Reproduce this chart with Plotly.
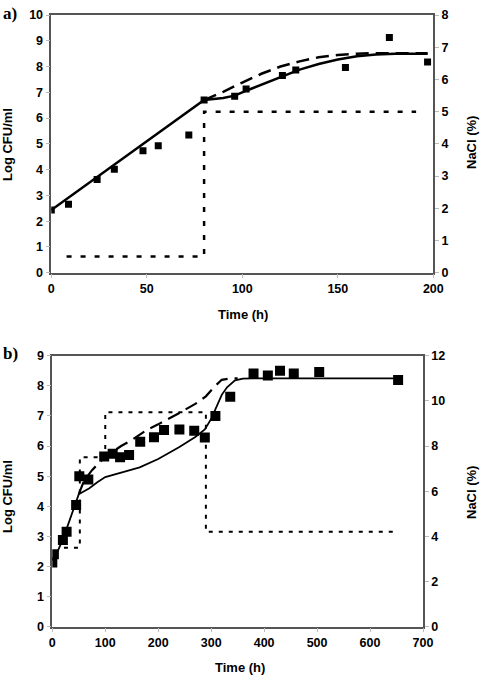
import plotly.graph_objects as go

W, H = 480, 678

# ---------- Panel a data ----------
a_obs_t = [0, 9, 24, 33, 48, 56, 72, 80, 96, 102, 121, 128, 154, 177, 197]
a_obs_log = [2.43, 2.66, 3.62, 4.01, 4.73, 4.93, 5.34, 6.70, 6.85, 7.13, 7.65, 7.87, 7.96, 9.13, 8.18]

a_solid_t = [0, 80, 90, 96, 104, 120, 130, 140, 150, 160, 170, 180, 197]
a_solid_log = [2.43, 6.70, 6.78, 6.87, 7.12, 7.60, 7.88, 8.10, 8.27, 8.40, 8.47, 8.50, 8.50]

a_dash_t = [80, 90, 100, 110, 120, 130, 140, 150, 160, 170, 197]
a_dash_log = [6.70, 7.02, 7.38, 7.72, 8.00, 8.20, 8.36, 8.45, 8.50, 8.52, 8.52]

a_nacl_t = [8, 80, 80, 191]
a_nacl = [0.5, 0.5, 5.0, 5.0]

# ---------- Panel b data ----------
b_obs_t = [0, 3, 20, 27, 45, 51, 68, 98, 114, 128, 145, 166, 192, 211, 240, 268, 288, 308, 336, 380, 407, 430, 456, 504, 653]
b_obs_log = [2.13, 2.41, 2.88, 3.15, 4.04, 5.00, 4.89, 5.65, 5.74, 5.63, 5.70, 6.14, 6.29, 6.53, 6.55, 6.51, 6.28, 7.00, 7.64, 8.41, 8.34, 8.50, 8.41, 8.46, 8.19]

b_solid_t = [0, 10, 20, 30, 40, 50, 60, 70, 85, 100, 130, 165, 200, 240, 270, 288, 300, 310, 320, 330, 345, 360, 380, 653]
b_solid_log = [2.20, 2.50, 2.90, 3.40, 3.90, 4.40, 4.50, 4.60, 4.80, 4.97, 5.12, 5.29, 5.57, 5.97, 6.30, 6.55, 6.90, 7.30, 7.70, 7.95, 8.18, 8.24, 8.25, 8.25]

b_dash_t = [50, 60, 75, 100, 130, 150, 180, 200, 240, 270, 290, 305, 320, 335, 350]
b_dash_log = [4.40, 4.85, 5.20, 5.65, 6.00, 6.20, 6.55, 6.72, 7.10, 7.40, 7.65, 7.95, 8.20, 8.24, 8.25]

b_nacl_t = [22, 52, 52, 100, 100, 290, 290, 650]
b_nacl = [3.5, 3.5, 7.5, 7.5, 9.5, 9.5, 4.2, 4.2]

fig = go.Figure()

# Panel a traces
fig.add_trace(go.Scatter(x=a_nacl_t, y=a_nacl, mode="lines", xaxis="x", yaxis="y2",
                         line=dict(color="black", width=2.5, dash="5px,9px"), showlegend=False))
fig.add_trace(go.Scatter(x=a_dash_t, y=a_dash_log, mode="lines", xaxis="x", yaxis="y",
                         line=dict(color="black", width=2.5, dash="13px,7px"), showlegend=False))
fig.add_trace(go.Scatter(x=a_solid_t, y=a_solid_log, mode="lines", xaxis="x", yaxis="y",
                         line=dict(color="black", width=2.5), showlegend=False))
fig.add_trace(go.Scatter(x=a_obs_t, y=a_obs_log, mode="markers", xaxis="x", yaxis="y",
                         marker=dict(symbol="square", size=7, color="black"), showlegend=False))

# Panel b traces
fig.add_trace(go.Scatter(x=b_nacl_t, y=b_nacl, mode="lines", xaxis="x2", yaxis="y4",
                         line=dict(color="black", width=2, dash="4px,6px"), showlegend=False))
fig.add_trace(go.Scatter(x=b_dash_t, y=b_dash_log, mode="lines", xaxis="x2", yaxis="y3",
                         line=dict(color="black", width=2.2, dash="13px,7px"), showlegend=False))
fig.add_trace(go.Scatter(x=b_solid_t, y=b_solid_log, mode="lines", xaxis="x2", yaxis="y3",
                         line=dict(color="black", width=1.8), showlegend=False))
fig.add_trace(go.Scatter(x=b_obs_t, y=b_obs_log, mode="markers", xaxis="x2", yaxis="y3",
                         marker=dict(symbol="square", size=10, color="black"), showlegend=False))

tickfont = dict(family="Liberation Sans, Arial", size=12.5, color="black", weight="bold")
axcommon = dict(showgrid=False, zeroline=False, showline=True, linecolor="#555555", linewidth=1.5,
                ticks="outside", ticklen=4, tickcolor="#bbbbbb", tickwidth=1, tickfont=tickfont,
                automargin=False)

def px_x(p):
    return p / W

def px_y(p):
    return 1 - p / H

fig.update_layout(
    width=W, height=H,
    margin=dict(l=0, r=0, t=0, b=0, pad=0),
    paper_bgcolor="white", plot_bgcolor="white",
    xaxis=dict(domain=[px_x(51.3), px_x(433.3)], anchor="y", range=[0, 200], tickvals=[0, 50, 100, 150, 200],
               mirror=True, **axcommon),
    yaxis=dict(domain=[px_y(272.7), px_y(15)], anchor="x", range=[0, 10], dtick=1, **axcommon),
    yaxis2=dict(overlaying="y", side="right", anchor="x", range=[0, 8], dtick=1, **axcommon),
    xaxis2=dict(domain=[px_x(52.3), px_x(423)], anchor="y3", range=[0, 700], dtick=100,
                mirror=True, **axcommon),
    yaxis3=dict(domain=[px_y(626.7), px_y(355.7)], anchor="x2", range=[0, 9], dtick=1, **axcommon),
    yaxis4=dict(overlaying="y3", side="right", anchor="x2", range=[0, 12], dtick=2, **axcommon),
)

titlefont = dict(family="Liberation Sans, Arial", size=13, color="black", weight="bold")
labelfont = dict(family="Liberation Serif, Times New Roman", size=17, color="black", weight="bold")

annos = [
    dict(text="a)", x=px_x(1), y=px_y(14), xanchor="left", yanchor="middle", font=labelfont),
    dict(text="b)", x=px_x(1), y=px_y(353), xanchor="left", yanchor="middle", font=labelfont),
    dict(text="Log CFU/ml", x=px_x(8), y=px_y(145), textangle=-90, xanchor="center", yanchor="middle", font=titlefont),
    dict(text="NaCl (%)", x=px_x(471), y=px_y(143), textangle=-90, xanchor="center", yanchor="middle", font=titlefont),
    dict(text="Time (h)", x=px_x(243), y=px_y(315), xanchor="center", yanchor="middle", font=titlefont),
    dict(text="Log CFU/ml", x=px_x(8), y=px_y(497), textangle=-90, xanchor="center", yanchor="middle", font=titlefont),
    dict(text="NaCl (%)", x=px_x(471), y=px_y(493), textangle=-90, xanchor="center", yanchor="middle", font=titlefont),
    dict(text="Time (h)", x=px_x(240), y=px_y(667), xanchor="center", yanchor="middle", font=titlefont),
]
for a in annos:
    a.update(xref="paper", yref="paper", showarrow=False)
fig.update_layout(annotations=annos)

fig.write_html("out.html", config={"displayModeBar": False},
               post_script="document.body.style.margin='0';document.body.style.overflow='hidden';")
